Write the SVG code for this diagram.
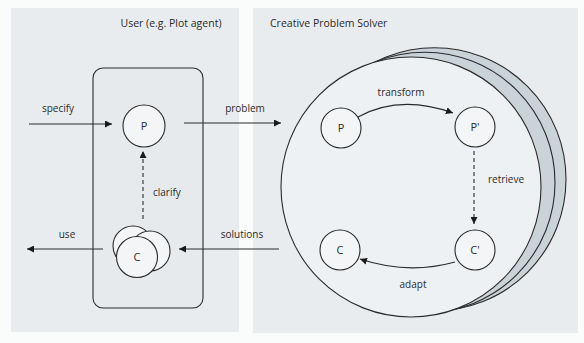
<svg xmlns="http://www.w3.org/2000/svg" width="584" height="343" viewBox="0 0 584 343">
<defs>
<style>
text{font-family:"Open Sans","Noto Sans",sans-serif;font-size:10px;fill:#2a2a2a}
.t{font-size:10.5px}
.n{font-size:11px;text-anchor:middle}
.ln{fill:none;stroke:#2a2a2a;stroke-width:1.1}
.d{stroke-dasharray:4 3}
.c{fill:#f3f5f6;stroke:#2a2a2a;stroke-width:1.1}
.b{fill:#c9d3d8;stroke:#2a2a2a;stroke-width:1.1}
</style>
<marker id="ah" viewBox="0 0 10 10" refX="10" refY="5" markerWidth="7" markerHeight="7" markerUnits="userSpaceOnUse" orient="auto">
<path d="M0,0 L10,5 L0,10 z" fill="#1a1a1a"/>
</marker>
</defs>
<rect width="584" height="343" fill="#fafbfb"/>
<rect x="11" y="8" width="228" height="324" fill="#e9ecee"/>
<rect x="253" y="8" width="325" height="325" fill="#e9ecee"/>
<text class="t" x="171" y="27" text-anchor="middle">User (e.g. Plot agent)</text>
<text class="t" x="270" y="27">Creative Problem Solver</text>

<g id="user-box">
<rect x="93" y="68" width="110" height="240" rx="10" fill="#e7eaed" stroke="#2a2a2a" stroke-width="1.1"/>
</g>
<g id="solver">
<circle class="b" cx="434.5" cy="179.3" r="131.5"/>
<circle class="b" cx="424.7" cy="182.5" r="130.3"/>
<circle cx="411" cy="187" r="130" fill="#eef1f3" stroke="#2a2a2a" stroke-width="1.1"/>
</g>
<g id="user-P">
<circle class="c" cx="144" cy="126" r="21"/>
<text class="n" x="144" y="130">P</text>
</g>
<g id="user-C">
<circle class="c" cx="133" cy="246" r="20"/>
<circle class="c" cx="150" cy="251" r="20"/>
<circle class="c" cx="137" cy="257" r="20.5"/>
<text class="n" x="137" y="261">C</text>
</g>
<g id="P">
<circle class="c" cx="341" cy="128" r="20"/>
<text class="n" x="341" y="132">P</text>
</g>
<g id="P-prime">
<circle class="c" cx="475" cy="127" r="20"/>
<text class="n" x="475" y="131">P'</text>
</g>
<g id="C">
<circle class="c" cx="340" cy="250" r="20"/>
<text class="n" x="340" y="254">C</text>
</g>
<g id="C-prime">
<circle class="c" cx="475" cy="250" r="20"/>
<text class="n" x="475" y="254">C'</text>
</g>

<g id="connectors">
<line class="ln" x1="29" y1="124" x2="112" y2="124" marker-end="url(#ah)"/>
<line class="ln" x1="184" y1="123" x2="281" y2="123" marker-end="url(#ah)"/>
<line class="ln" x1="103" y1="249" x2="27" y2="249" marker-end="url(#ah)"/>
<line class="ln" x1="279" y1="249" x2="179" y2="249" marker-end="url(#ah)"/>
<line class="ln d" x1="143" y1="219" x2="143" y2="151" marker-end="url(#ah)"/>
<path class="ln" d="M358,117 Q400,94 453,113" marker-end="url(#ah)"/>
<line class="ln d" x1="474" y1="151" x2="474" y2="224" marker-end="url(#ah)"/>
<path class="ln" d="M455,262 Q408,275 360,259" marker-end="url(#ah)"/>
</g>

<text x="58" y="112" text-anchor="middle">specify</text>
<text x="245" y="112" text-anchor="middle">problem</text>
<text x="67" y="238" text-anchor="middle">use</text>
<text x="242" y="238" text-anchor="middle">solutions</text>
<text x="153" y="196">clarify</text>
<text x="401" y="96" text-anchor="middle">transform</text>
<text x="506" y="183" text-anchor="middle">retrieve</text>
<text x="413" y="288" text-anchor="middle">adapt</text>
</svg>
